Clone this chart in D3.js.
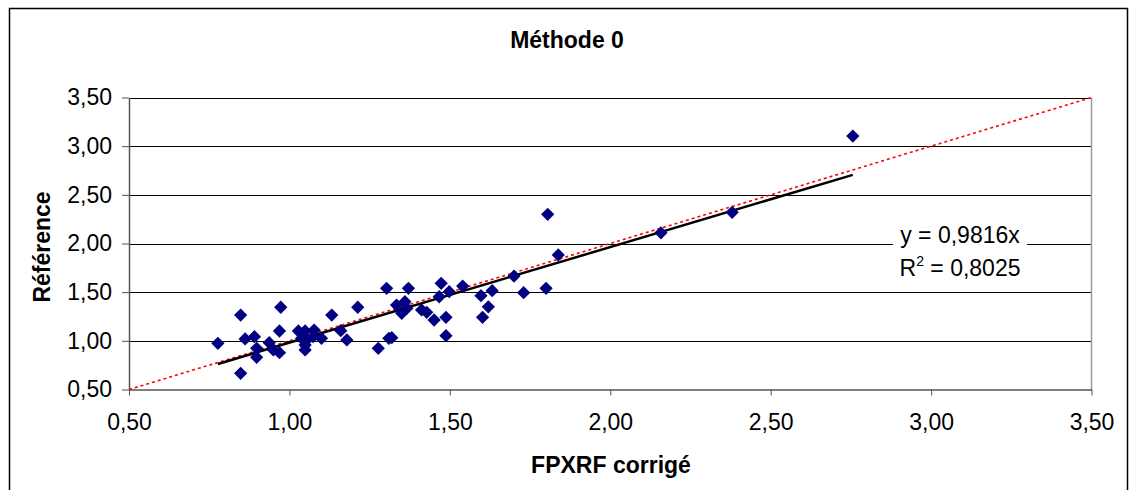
<!DOCTYPE html>
<html><head><meta charset="utf-8">
<script src="https://cdn.jsdelivr.net/npm/d3@7"></script>
<style>body{margin:0;background:#fff}svg{display:block}text{font-family:"Liberation Sans",Arial,sans-serif}</style>
</head><body><svg id="c" width="1130" height="490"></svg>
<script>
const title = "Méthode 0";
const xTitle = "FPXRF corrigé";
const yTitle = "Référence";
const tickValues = [0.5, 1.0, 1.5, 2.0, 2.5, 3.0, 3.5];
const xValues = [0.777,0.848,0.848,0.862,0.891,0.898,0.898,0.937,0.950,0.969,0.969,0.973,1.028,1.049,1.077,1.038,1.054,1.049,1.049,1.100,1.074,1.132,1.160,1.179,1.213,1.277,1.310,1.303,1.319,1.334,1.350,1.360,1.366,1.371,1.412,1.428,1.451,1.467,1.473,1.488,1.488,1.498,1.540,1.597,1.602,1.620,1.632,1.700,1.730,1.800,1.805,1.838,2.158,2.380,2.756];
const yValues = [0.975,1.265,0.666,1.019,1.043,0.923,0.831,0.981,0.906,0.878,1.101,1.345,1.101,1.101,1.111,1.026,1.009,0.906,0.957,1.026,1.043,1.265,1.104,1.009,1.345,0.923,1.026,1.540,1.032,1.368,1.283,1.402,1.334,1.540,1.317,1.293,1.214,1.453,1.591,1.242,1.053,1.505,1.563,1.464,1.242,1.350,1.515,1.666,1.495,1.540,2.300,1.882,2.110,2.320,3.104];
const slope = 0.9816;
const eqText = "y = 0,9816x";
const r2Value = "0,8025";

const svg = d3.select("#c");
const fmt = v => d3.format(".2f")(v).replace(".", ",");
const x = d3.scaleLinear().domain([0.5, 3.5]).range([129, 1091.5]);
const y = d3.scaleLinear().domain([0.5, 3.5]).range([389.5, 97.5]);
const FS = 23;

// outer frame
svg.append("rect").attr("x", 9.5).attr("y", 8.5).attr("width", 1118).attr("height", 500)
  .attr("fill", "none").attr("stroke", "#000").attr("stroke-width", 1.5);

// gridlines
svg.append("g").selectAll("line").data(tickValues.slice(1)).join("line")
  .attr("x1", x(0.5)).attr("x2", x(3.5))
  .attr("y1", d => Math.round(y(d)) + 0.5).attr("y2", d => Math.round(y(d)) + 0.5)
  .attr("stroke", "#000").attr("stroke-width", 1);
// right border
svg.append("line").attr("x1", x(3.5)).attr("x2", x(3.5)).attr("y1", y(3.5)).attr("y2", y(0.5))
  .attr("stroke", "#999").attr("stroke-width", 1.5);

// axes
const xAxis = d3.axisBottom(x).tickValues(tickValues).tickFormat(fmt).tickSize(6).tickSizeOuter(0);
const yAxis = d3.axisLeft(y).tickValues(tickValues).tickFormat(fmt).tickSize(7).tickSizeOuter(0);
const gx = svg.append("g").attr("transform", `translate(0,${y(0.5)})`).call(xAxis);
const gy = svg.append("g").attr("transform", `translate(${x(0.5)},0)`).call(yAxis);
[gx, gy].forEach(g => {
  g.select(".domain").attr("stroke", "#555").attr("stroke-width", 1.5);
  g.selectAll(".tick line").attr("stroke", "#555");
  g.selectAll("text").attr("font-size", FS).attr("fill", "#000").attr("font-family", "Liberation Sans, Arial, sans-serif");
});
gx.selectAll("text").attr("dy", "1.35em");
gy.selectAll("text").attr("x", -17);

// red y=x dotted line
svg.append("line").attr("x1", x(0.5)).attr("y1", y(0.5)).attr("x2", x(3.5)).attr("y2", y(3.5))
  .attr("stroke", "#f00").attr("stroke-width", 1.6).attr("stroke-dasharray", "3,3");

// trendline
const xmin = d3.min(xValues), xmax = d3.max(xValues);
svg.append("line").attr("x1", x(xmin)).attr("y1", y(slope * xmin)).attr("x2", x(xmax)).attr("y2", y(slope * xmax))
  .attr("stroke", "#000").attr("stroke-width", 2.5);

// points
const diamond = d3.symbol().type(d3.symbolSquare).size(88);
svg.append("g").selectAll("path").data(xValues.map((v, i) => [v, yValues[i]])).join("path")
  .attr("d", diamond)
  .attr("transform", d => `translate(${x(d[0])},${y(d[1])}) rotate(45)`)
  .attr("fill", "#000080");

// equation label
const lab = svg.append("g");
lab.append("rect").attr("x", 893).attr("y", 220).attr("width", 134).attr("height", 60).attr("fill", "#fff");
lab.append("text").attr("x", 960).attr("y", 243).attr("text-anchor", "middle").attr("font-size", FS).text(eqText);
const t2 = lab.append("text").attr("x", 960).attr("y", 276).attr("text-anchor", "middle").attr("font-size", FS);
t2.append("tspan").text("R");
t2.append("tspan").attr("font-size", 14).attr("dy", -10).text("2");
t2.append("tspan").attr("dy", 10).text(" = " + r2Value);

// titles
svg.append("text").attr("x", 567).attr("y", 48).attr("text-anchor", "middle")
  .attr("font-size", FS).attr("font-weight", "bold").text(title);
svg.append("text").attr("x", 611).attr("y", 473).attr("text-anchor", "middle")
  .attr("font-size", FS).attr("font-weight", "bold").text(xTitle);
svg.append("text").attr("transform", "translate(50,247) rotate(-90)").attr("text-anchor", "middle")
  .attr("font-size", FS).attr("font-weight", "bold").text(yTitle);
</script></body></html>
